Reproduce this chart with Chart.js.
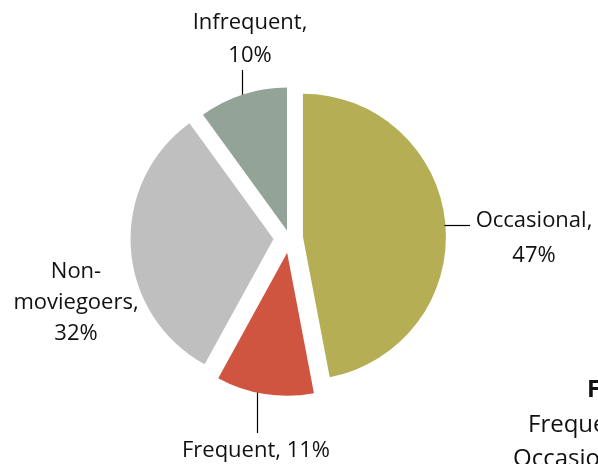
<!DOCTYPE html>
<html>
<head>
<meta charset="utf-8">
<script src="https://cdn.jsdelivr.net/npm/chart.js@4.4.1/dist/chart.umd.min.js"></script>
<style>
  html, body { margin:0; padding:0; background:#fff; }
  #wrap { width:598px; height:464px; }
</style>
</head>
<body>
<div id="wrap"><canvas id="pieChart" width="598" height="464"></canvas></div>
<script>
"use strict";

// ─── Data ──────────────────────────────────────────────────
const categories = ["Occasional", "Frequent", "Non-moviegoers", "Infrequent"];
const shares     = [47, 11, 32, 10];

// ─── Style ─────────────────────────────────────────────────
const SLICE_COLORS = ["#b5ae55", "#cf5541", "#bfbfbf", "#93a397"];
const EXPLODE      = [13.5, 15, 16, 8];          // px each slice is pulled out
const FONT         = "'Open Sans', sans-serif";
const TEXT_COLOR   = "#111";

// label placement: centre x, first baseline, line height, one line or wrapped
const LABEL_POS = [
  { x: 534, y: 227, lh: 35, leader: { dir: "h", at: 225, to: 470 } },
  { x: 256, y: 457, lh: 0,  oneLine: true, leader: { dir: "v", at: 257, to: 433 } },
  { x: 76,  y: 278, lh: 31 },
  { x: 250, y: 29,  lh: 33, leader: { dir: "v", at: 242, to: 70 } },
];

function labelLines(i) {
  const text = `${categories[i]}, ${shares[i]}%`;
  if (LABEL_POS[i].oneLine) return [text];
  return text.split(/(?<=-)|\s+/);
}

// ─── Plugins ───────────────────────────────────────────────
// pull each arc out along its mid angle (plain translation, like Excel)
const explodePlugin = {
  id: "explode",
  afterDatasetUpdate(chart, args) {
    args.meta.data.forEach((arc, i) => {
      const mid = (arc.startAngle + arc.endAngle) / 2;
      const d = EXPLODE[i] || 0;
      arc.x += Math.cos(mid) * d;
      arc.y += Math.sin(mid) * d;
    });
  },
};

const labelPlugin = {
  id: "sliceLabels",
  afterDraw(chart) {
    const ctx = chart.ctx;
    const arcs = chart.getDatasetMeta(0).data;
    ctx.save();
    ctx.fillStyle = TEXT_COLOR;
    ctx.strokeStyle = "#000";
    ctx.lineWidth = 1.2;
    ctx.font = `22px ${FONT}`;
    ctx.textAlign = "center";
    ctx.textBaseline = "alphabetic";

    arcs.forEach((arc, i) => {
      const s = LABEL_POS[i];
      labelLines(i).forEach((ln, k) => ctx.fillText(ln, s.x, s.y + k * s.lh));

      const L = s.leader;
      if (!L) return;
      const R = arc.outerRadius;
      ctx.beginPath();
      if (L.dir === "v") {
        const dy = Math.sqrt(Math.max(R * R - (L.at - arc.x) ** 2, 0));
        const edge = L.to < arc.y ? arc.y - dy : arc.y + dy;
        ctx.moveTo(L.at + 0.5, edge);
        ctx.lineTo(L.at + 0.5, L.to);
      } else {
        const dx = Math.sqrt(Math.max(R * R - (L.at - arc.y) ** 2, 0));
        ctx.moveTo(arc.x + dx - 1, L.at + 0.5);
        ctx.lineTo(L.to, L.at + 0.5);
      }
      ctx.stroke();
    });

    // text box at the lower right, cut off by the picture edge
    ctx.textAlign = "left";
    ctx.font = `bold 24px ${FONT}`;
    ctx.fillText("Frequency", 587, 397);
    ctx.font = `24px ${FONT}`;
    ctx.fillText("Frequent", 528, 432);
    ctx.fillText("Occasional", 513, 466);
    ctx.restore();
  },
};

// ─── Chart ─────────────────────────────────────────────────
new Chart(document.getElementById("pieChart"), {
  type: "pie",
  data: {
    labels: categories,
    datasets: [{
      data: shares,
      backgroundColor: SLICE_COLORS,
      borderWidth: 0,
      hoverOffset: 0,
    }],
  },
  options: {
    responsive: false,
    animation: false,
    events: [],
    radius: 143,
    layout: { padding: { left: 0, right: 19, top: 12, bottom: 0 } },
    plugins: { legend: { display: false }, tooltip: { enabled: false } },
  },
  plugins: [explodePlugin, labelPlugin],
});
</script>
</body>
</html>
